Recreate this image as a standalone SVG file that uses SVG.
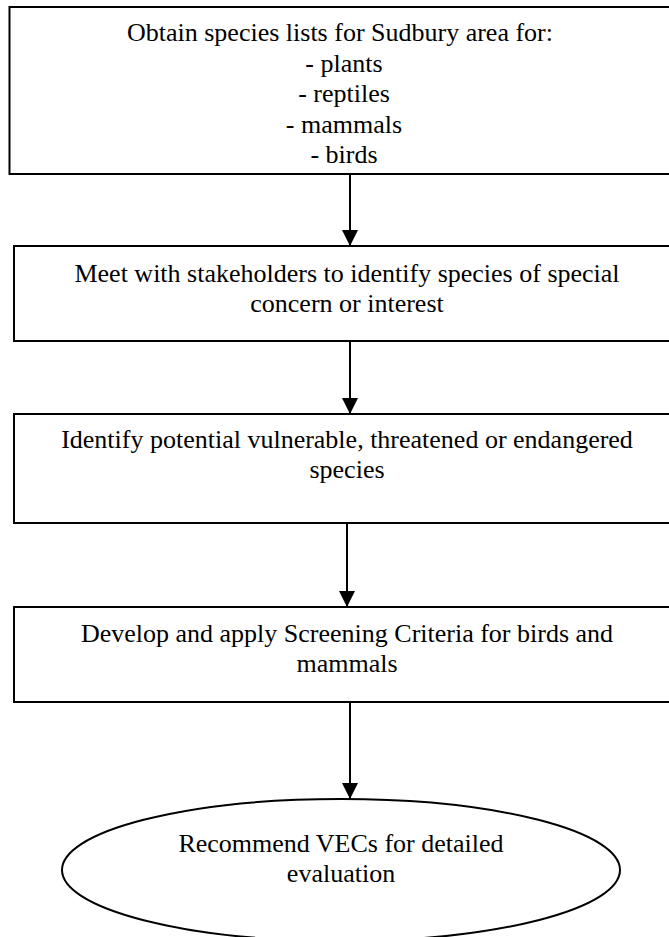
<svg xmlns="http://www.w3.org/2000/svg" width="669" height="937" viewBox="0 0 669 937">
  <style>
    .box { fill: #ffffff; stroke: #000000; stroke-width: 2; }
    .lbl { font-family: "Liberation Serif", "Times New Roman", serif; font-size: 26px; fill: #000000; text-anchor: middle; }
    .conn { stroke: #000000; stroke-width: 2; fill: none; }
  </style>
  <defs>
    <marker id="arrow" markerUnits="userSpaceOnUse" markerWidth="16" markerHeight="16" refX="16" refY="8" orient="auto">
      <path d="M0,0 L16,8 L0,16 Z" fill="#000000"/>
    </marker>
  </defs>
  <rect width="669" height="937" fill="#ffffff"/>

  <g id="node-obtain">
    <rect class="box" x="9.5" y="7" width="700" height="167"/>
    <text class="lbl" x="340" y="41">Obtain species lists for Sudbury area for:</text>
    <text class="lbl" x="344" y="71.5">- plants</text>
    <text class="lbl" x="344" y="102">- reptiles</text>
    <text class="lbl" x="344" y="132.5">- mammals</text>
    <text class="lbl" x="344" y="163">- birds</text>
  </g>

  <g id="node-meet">
    <rect class="box" x="14" y="246" width="700" height="95"/>
    <text class="lbl" x="347" y="282">Meet with stakeholders to identify species of special</text>
    <text class="lbl" x="347" y="312">concern or interest</text>
  </g>

  <g id="node-identify">
    <rect class="box" x="14" y="414" width="700" height="109"/>
    <text class="lbl" x="347" y="448">Identify potential vulnerable, threatened or endangered</text>
    <text class="lbl" x="347" y="478">species</text>
  </g>

  <g id="node-develop">
    <rect class="box" x="14" y="607" width="700" height="95"/>
    <text class="lbl" x="347" y="642">Develop and apply Screening Criteria for birds and</text>
    <text class="lbl" x="347" y="672">mammals</text>
  </g>

  <g id="node-recommend">
    <ellipse class="box" cx="341" cy="870" rx="279" ry="71"/>
    <text class="lbl" x="341" y="852">Recommend VECs for detailed</text>
    <text class="lbl" x="341" y="882">evaluation</text>
  </g>

  <g id="connectors">
    <line class="conn" x1="350" y1="174" x2="350" y2="246" marker-end="url(#arrow)"/>
    <line class="conn" x1="350" y1="341" x2="350" y2="414" marker-end="url(#arrow)"/>
    <line class="conn" x1="347" y1="523" x2="347" y2="607" marker-end="url(#arrow)"/>
    <line class="conn" x1="350" y1="702" x2="350" y2="799" marker-end="url(#arrow)"/>
  </g>
</svg>
